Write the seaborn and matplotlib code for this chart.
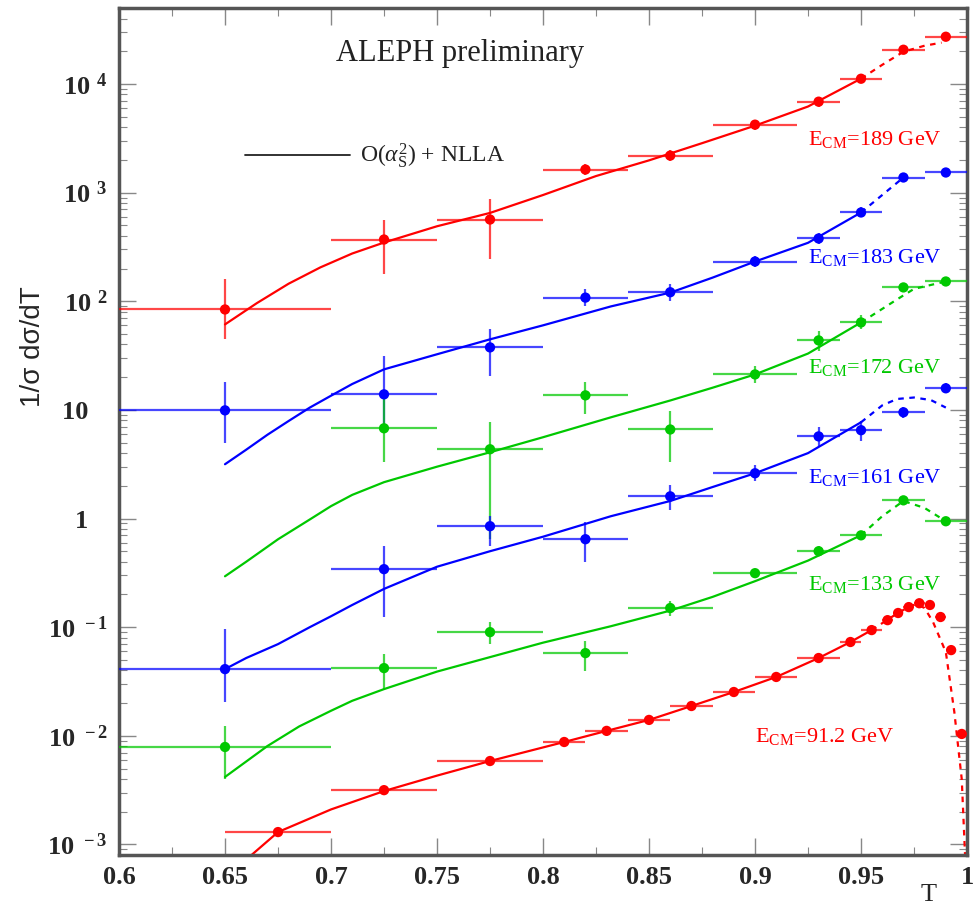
import numpy as np
import pandas as pd
import matplotlib
matplotlib.use("Agg")
import matplotlib.pyplot as plt
import seaborn as sns
from matplotlib.ticker import FixedLocator, FuncFormatter, LogLocator, NullFormatter, MultipleLocator

# ---------------- data ----------------
HE_T = [0.65, 0.725, 0.775, 0.82, 0.86, 0.9, 0.93, 0.95, 0.97, 0.99]
HE_LO = [0.6, 0.7, 0.75, 0.8, 0.84, 0.88, 0.92, 0.94, 0.96, 0.98]
HE_HI = [0.7, 0.75, 0.8, 0.84, 0.88, 0.92, 0.94, 0.96, 0.98, 1.0]

v189 = [84, 370, 565, 1630, 2190, 4220, 6870, 11170, 20650, 27200]
lo189 = [45, 177, 243, 1450, 1950, 3800, 6200, 10200, 19000, 25000]
hi189 = [159, 565, 865, 1830, 2450, 4700, 7600, 12200, 22400, 29600]

v183 = [9.9, 13.9, 37.6, 108, 121, 232, 378, 656, 1377, 1531]
lo183 = [5.0, 6.6, 20.4, 90, 100, 205, 335, 590, 1250, 1400]
hi183 = [18, 31, 55, 129, 145, 262, 425, 730, 1520, 1680]

T172 = HE_T[1:]
v172 = [6.77, 4.34, 13.6, 6.6, 21.2, 43.6, 63.8, 134, 152]
lo172 = [3.3, 0.65, 9.1, 3.3, 17.5, 35, 55, 122, 140]
hi172 = [12.5, 7.7, 18, 9.7, 25.5, 53, 74, 147, 165]

v161 = [0.0411, 0.342, 0.85, 0.645, 1.60, 2.61, 5.7, 6.5, 9.5, 15.8]
lo161 = [0.0205, 0.124, 0.556, 0.397, 1.20, 2.2, 4.6, 5.2, 8.4, 14.2]
hi161 = [0.096, 0.556, 1.05, 0.925, 2.05, 3.1, 6.9, 7.9, 10.7, 17.5]

v133 = [0.00789, 0.042, 0.090, 0.0577, 0.150, 0.314, 0.50, 0.70, 1.47, 0.944]
lo133 = [0.004, 0.027, 0.070, 0.0394, 0.128, 0.285, 0.45, 0.64, 1.37, 0.88]
hi133 = [0.0123, 0.0565, 0.111, 0.0744, 0.175, 0.345, 0.56, 0.77, 1.58, 1.01]

T91 = [0.675, 0.725, 0.775, 0.81, 0.83, 0.85, 0.87, 0.89, 0.91, 0.93, 0.945, 0.955,
       0.9625, 0.9675, 0.9725, 0.9775, 0.9825, 0.9875, 0.9925, 0.9975]
LO91 = [0.65, 0.7, 0.75, 0.8, 0.82, 0.84, 0.86, 0.88, 0.9, 0.92, 0.94, 0.95,
        0.96, 0.965, 0.97, 0.975, 0.98, 0.985, 0.99, 0.995]
HI91 = [0.7, 0.75, 0.8, 0.82, 0.84, 0.86, 0.88, 0.9, 0.92, 0.94, 0.95, 0.96,
        0.965, 0.97, 0.975, 0.98, 0.985, 0.99, 0.995, 1.0]
v91 = [0.0013, 0.00316, 0.00586, 0.00877, 0.0111, 0.0140, 0.0188, 0.0253, 0.0348, 0.052,
       0.073, 0.094, 0.116, 0.135, 0.153, 0.166, 0.160, 0.124, 0.0615, 0.0104]
lo91 = [0.00125, 0.00305, 0.00568, 0.0085, 0.0108, 0.0136, 0.0183, 0.0246, 0.0339, 0.0506,
        0.0711, 0.0916, 0.113, 0.1315, 0.149, 0.1617, 0.1558, 0.1208, 0.0599, 0.0101]
hi91 = [0.00135, 0.00327, 0.00604, 0.00904, 0.0114, 0.0144, 0.0193, 0.026, 0.0357, 0.0534,
        0.075, 0.0964, 0.119, 0.1385, 0.157, 0.1703, 0.1642, 0.1272, 0.0631, 0.0107]

# theory curves (O(as^2)+NLLA): solid part and dashed part
c189_T = [0.65, 0.665, 0.68, 0.695, 0.71, 0.725, 0.75, 0.775, 0.80, 0.825, 0.85, 0.875, 0.90, 0.925, 0.95]
c189_v = [61.2, 96, 145, 205, 275, 347, 490, 650, 950, 1420, 1980, 2850, 4133, 6200, 11190]
d189_T = [0.95, 0.96, 0.97, 0.98, 0.988]
d189_v = [11190, 15000, 19800, 22500, 24000]

c183_T = [0.65, 0.66, 0.67, 0.68, 0.69, 0.70, 0.71, 0.725, 0.75, 0.775, 0.80, 0.832, 0.86, 0.88, 0.90, 0.925, 0.95]
c183_v = [3.16, 4.3, 5.9, 7.9, 10.5, 13.5, 17.3, 23.6, 32.5, 44.6, 60, 89.6, 120, 165, 232, 345, 656]
d183_T = [0.95, 0.96, 0.97]
d183_v = [656, 950, 1377]

c172_T = [0.65, 0.66, 0.675, 0.69, 0.70, 0.71, 0.725, 0.75, 0.775, 0.80, 0.832, 0.86, 0.88, 0.90, 0.925, 0.95]
c172_v = [0.294, 0.40, 0.644, 0.98, 1.30, 1.65, 2.16, 3.0, 4.07, 5.6, 8.54, 12.2, 16.0, 21.2, 33.0, 63.8]
d172_T = [0.95, 0.96, 0.967, 0.975, 0.99]
d172_v = [63.8, 85, 104, 130, 152]

c161_T = [0.65, 0.66, 0.675, 0.69, 0.70, 0.71, 0.725, 0.75, 0.775, 0.80, 0.832, 0.86, 0.88, 0.90, 0.925, 0.95]
c161_v = [0.0411, 0.052, 0.0698, 0.100, 0.126, 0.160, 0.225, 0.36, 0.50, 0.68, 1.05, 1.45, 1.95, 2.61, 4.0, 7.69]
d161_T = [0.95, 0.96, 0.967, 0.975, 0.983, 0.99]
d161_v = [7.69, 11.0, 12.6, 13.0, 12.3, 10.5]

c133_T = [0.65, 0.66, 0.67, 0.685, 0.70, 0.71, 0.725, 0.75, 0.775, 0.80, 0.832, 0.86, 0.88, 0.90, 0.925, 0.95]
c133_v = [0.00418, 0.0058, 0.00805, 0.0122, 0.0170, 0.021, 0.0269, 0.039, 0.0530, 0.072, 0.102,
          0.142, 0.190, 0.265, 0.41, 0.702]
d133_T = [0.95, 0.96, 0.97, 0.98, 0.99]
d133_v = [0.702, 1.05, 1.45, 1.25, 0.944]

c91_T = [0.655, 0.675, 0.70, 0.725, 0.75, 0.775, 0.81, 0.83, 0.85, 0.87, 0.89, 0.91, 0.93, 0.945, 0.955]
c91_v = [0.000597, 0.0013, 0.0021, 0.0031, 0.0043, 0.00586, 0.00877, 0.0111, 0.0140, 0.0188, 0.0253,
         0.0348, 0.052, 0.073, 0.094]
d91_T = [0.955, 0.965, 0.972, 0.976, 0.98, 0.984, 0.99, 0.994, 0.9975, 0.999, 1.0]
d91_v = [0.094, 0.126, 0.152, 0.163, 0.150, 0.111, 0.059, 0.0166, 0.0040, 0.00086, 0.0003]

labels = ["E$_{\\rm CM}$=189 GeV", "E$_{\\rm CM}$=183 GeV", "E$_{\\rm CM}$=172 GeV",
          "E$_{\\rm CM}$=161 GeV", "E$_{\\rm CM}$=133 GeV", "E$_{\\rm CM}$=91.2 GeV"]
label_T = [0.925, 0.925, 0.925, 0.925, 0.925, 0.9]
label_v = [3070, 254, 24.6, 2.4, 0.249, 0.0098]

RED, BLUE, GREEN = "#ff0000", "#0000ff", "#00c800"

# ---------------- style ----------------
sns.set_theme(style="ticks")
plt.rcParams["font.family"] = ["Liberation Serif", "DejaVu Serif"]
plt.rcParams["mathtext.fontset"] = "custom"
plt.rcParams["mathtext.rm"] = "Liberation Serif"
plt.rcParams["mathtext.it"] = "Liberation Serif:italic"
plt.rcParams["mathtext.bf"] = "Liberation Serif:bold"

fig = plt.figure(figsize=(9.77, 9.11), dpi=100)
ax = fig.add_axes([0.1218, 0.0615, 0.8680, 0.9297])
ax.set_yscale("log")
ax.set_xlim(0.6, 1.0)
ax.set_ylim(8e-4, 5e4)


def draw_series(T, v, lo, hi, xlo, xhi, color):
    T = np.asarray(T); v = np.asarray(v)
    xerr = [T - np.asarray(xlo), np.asarray(xhi) - T]
    yerr = [v - np.asarray(lo), np.asarray(hi) - v]
    ax.errorbar(T, v, xerr=xerr, yerr=yerr, fmt="none", ecolor=color,
                elinewidth=1.6, capsize=0, alpha=0.72, zorder=3)
    df = pd.DataFrame({"T": T, "v": v})
    sns.scatterplot(data=df, x="T", y="v", ax=ax, color=color, s=55,
                    edgecolor="none", zorder=4, legend=False)


def draw_curve(cT, cv, dT, dv, color):
    sns.lineplot(data=pd.DataFrame({"T": cT, "v": cv}), x="T", y="v", ax=ax,
                 color=color, lw=1.6, estimator=None, sort=False, zorder=2)
    sns.lineplot(data=pd.DataFrame({"T": dT, "v": dv}), x="T", y="v", ax=ax,
                 color=color, lw=1.6, estimator=None, sort=False, zorder=2,
                 linestyle=(0, (2.5, 2.5)))


draw_curve(c189_T, c189_v, d189_T, d189_v, RED)
draw_curve(c183_T, c183_v, d183_T, d183_v, BLUE)
draw_curve(c172_T, c172_v, d172_T, d172_v, GREEN)
draw_curve(c161_T, c161_v, d161_T, d161_v, BLUE)
draw_curve(c133_T, c133_v, d133_T, d133_v, GREEN)
draw_curve(c91_T, c91_v, d91_T, d91_v, RED)

draw_series(HE_T, v189, lo189, hi189, HE_LO, HE_HI, RED)
draw_series(HE_T, v183, lo183, hi183, HE_LO, HE_HI, BLUE)
draw_series(T172, v172, lo172, hi172, HE_LO[1:], HE_HI[1:], GREEN)
draw_series(HE_T, v161, lo161, hi161, HE_LO, HE_HI, BLUE)
draw_series(HE_T, v133, lo133, hi133, HE_LO, HE_HI, GREEN)
draw_series(T91, v91, lo91, hi91, LO91, HI91, RED)

for lab, tx, ty, col in zip(labels, label_T, label_v,
                            [RED, BLUE, GREEN, BLUE, GREEN, RED]):
    ax.text(tx, ty, lab, color=col, fontsize=16, ha="left", va="center")

# titles / legend
ax.text(0.402, 0.946, "ALEPH preliminary", transform=ax.transAxes, fontsize=22,
        ha="center", va="center", color="#222222")
ax.plot([0.149, 0.272], [0.826, 0.826], transform=ax.transAxes, color="#222222", lw=1.3)
ax.text(0.284, 0.826, r"O($\alpha_{\rm S}^{2}$) + NLLA", transform=ax.transAxes,
        fontsize=17, ha="left", va="center", color="#222222")

# axes styling
ax.set_xlabel("")
ax.set_ylabel("")
ax.text(0.955, -0.047, "T", transform=ax.transAxes, fontsize=19, ha="center", va="center")
ax.text(-0.101, 0.60, "1/σ dσ/dT", transform=ax.transAxes, fontsize=20, rotation=90,
        ha="center", va="center", family=["Liberation Sans", "DejaVu Sans"])

ax.xaxis.set_major_locator(MultipleLocator(0.05))
ax.xaxis.set_minor_locator(MultipleLocator(0.025))
ax.xaxis.set_major_formatter(FuncFormatter(lambda x, p: f"{x:g}"))

ytick_vals = [1e-3, 1e-2, 1e-1, 1, 10, 100, 1e3, 1e4]
ytick_labs = [r"$\mathbf{10^{\;\;-3}}$", r"$\mathbf{10^{\;\;-2}}$", r"$\mathbf{10^{\;\;-1}}$",
              "1   ", "10   ",
              r"$\mathbf{10^{\;\;2}}$", r"$\mathbf{10^{\;\;3}}$", r"$\mathbf{10^{\;\;4}}$"]
ax.yaxis.set_major_locator(FixedLocator(ytick_vals))
ax.set_yticklabels(ytick_labs)
ax.yaxis.set_minor_locator(LogLocator(base=10, subs=np.arange(2, 10), numticks=20))
ax.yaxis.set_minor_formatter(NullFormatter())

for lab in ax.get_xticklabels() + ax.get_yticklabels():
    lab.set_fontweight("bold")
    lab.set_fontsize(19)

ax.tick_params(which="both", direction="in", top=True, right=True, color="#888888")
ax.tick_params(which="major", length=12, width=1.0, pad=8)
ax.tick_params(which="minor", length=6, width=0.8)
for sp in ax.spines.values():
    sp.set_color("#555555")
    sp.set_linewidth(2.5)

fig.savefig("out.png", dpi=100)
